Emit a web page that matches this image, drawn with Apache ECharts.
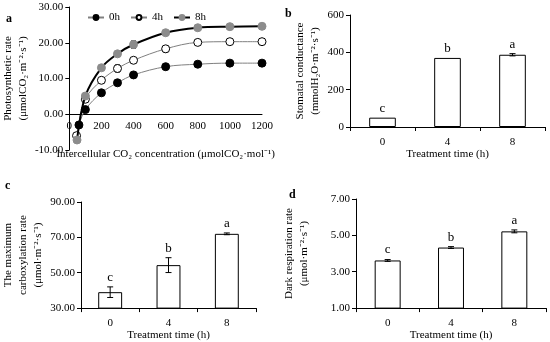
<!DOCTYPE html>
<html><head><meta charset="utf-8">
<script src="https://cdn.jsdelivr.net/npm/echarts@6/dist/echarts.min.js"></script>
<style>html,body{margin:0;padding:0;background:#fff}#c{width:550px;height:342px}</style>
</head><body><div id="c"></div>
<script>
// ---- Panel a data ----
const ci0h = [60, 100, 200, 300, 400, 600, 800, 1000, 1200];
const ci4h = [45, 100, 200, 300, 400, 600, 800, 1000, 1200];
const ci8h = [48, 100, 200, 300, 400, 600, 800, 1000, 1200];
const pn0h = [-3.0, 1.3, 6.0, 8.8, 11.0, 13.3, 14.0, 14.3, 14.3];
const pn4h = [-6.0, 4.2, 9.5, 12.8, 15.1, 18.3, 20.1, 20.3, 20.3];
const pn8h = [-7.2, 5.1, 13.0, 16.9, 19.5, 22.8, 24.2, 24.5, 24.6];
const er0h = [0.3, 0.3, 0.3, 0.5, 0.4, 0.4, 0.3, 0.3, 0.3];
const er4h = [0.5, 0.4, 0.5, 1.0, 0.7, 0.9, 0.8, 0.7, 0.6];
const er8h = [0.5, 0.4, 0.4, 0.5, 1.0, 0.6, 0.6, 0.5, 0.4];
const seriesNames = ['0h', '4h', '8h'];
// ---- Panels b, c, d ----
const timeCats = ['0', '4', '8'];
const gsVals = [50, 370, 387];
const gsErr = [0, 0, 6];
const vcVals = [39.0, 54.3, 72.0];
const vcErr = [3.0, 4.2, 0.5];
const rdVals = [3.62, 4.33, 5.22];
const rdErr = [0.05, 0.05, 0.08];
const sigLetters = ['c', 'b', 'a'];

const FONT = 'Liberation Serif';
const txt = {color: '#000', fontFamily: FONT, fontSize: 11};

function pts(xs, ys, es) { return xs.map((x, i) => es ? [x, ys[i], es[i]] : [x, ys[i]]); }
function barErr(vals, errs) { return vals.map((v, i) => [i, v, errs[i]]); }

function errRender(letters, capW) {
  return function (params, api) {
    const x = api.value(0), y = api.value(1), e = api.value(2);
    const top = api.coord([x, y + e]);
    const bot = api.coord([x, y - e]);
    const ch = [];
    if (e > 0) {
      const st = {stroke: '#000', lineWidth: 1};
      ch.push({type: 'line', shape: {x1: top[0], y1: top[1], x2: bot[0], y2: bot[1]}, style: st});
      ch.push({type: 'line', shape: {x1: top[0] - capW, y1: top[1], x2: top[0] + capW, y2: top[1]}, style: st});
      ch.push({type: 'line', shape: {x1: bot[0] - capW, y1: bot[1], x2: bot[0] + capW, y2: bot[1]}, style: st});
    }
    if (letters) {
      ch.push({type: 'text', style: {text: letters[params.dataIndex], x: top[0], y: top[1] - 3,
        align: 'center', verticalAlign: 'bottom', fontFamily: FONT, fontSize: 13, fill: '#000'}});
    }
    return {type: 'group', children: ch};
  };
}

function catX(gi) {
  return {type: 'category', gridIndex: gi, data: timeCats, boundaryGap: true,
    axisLine: {show: true, onZero: false, lineStyle: {color: '#000'}},
    axisTick: {show: true, length: 4, inside: false, lineStyle: {color: '#000'}},
    axisLabel: Object.assign({margin: 10}, txt),
    name: 'Treatment time (h)', nameLocation: 'middle', nameGap: 21,
    nameTextStyle: Object.assign({}, txt), splitLine: {show: false}};
}
function valY(gi, min, max, interval, dec, name, nameGap) {
  return {type: 'value', gridIndex: gi, min: min, max: max, interval: interval,
    axisLine: {show: true, lineStyle: {color: '#000'}},
    axisTick: {show: true, length: 4, lineStyle: {color: '#000'}},
    axisLabel: Object.assign({margin: 6, formatter: v => v.toFixed(dec)}, txt),
    splitLine: {show: false},
    name: name, nameLocation: 'middle', nameGap: nameGap, nameRotate: 90,
    nameTextStyle: Object.assign({lineHeight: 15}, txt)};
}
function barSeries(xi, yi, vals) {
  return {type: 'bar', xAxisIndex: xi, yAxisIndex: yi, data: vals, barWidth: '41%',
    itemStyle: {color: '#fff', borderColor: '#000', borderWidth: 1}, silent: true};
}
function errSeries(xi, yi, vals, errs) {
  return {type: 'custom', xAxisIndex: xi, yAxisIndex: yi, data: barErr(vals, errs),
    renderItem: errRender(sigLetters, 3), z: 5, silent: true};
}

const styles = {
  '0h': {sym: {color: '#000', borderColor: '#000', borderWidth: 1}, line: {color: '#808080', width: 1}},
  '4h': {sym: {color: '#fff', borderColor: '#000', borderWidth: 1}, line: {color: '#808080', width: 1}},
  '8h': {sym: {color: '#8c8c8c', borderColor: '#8c8c8c', borderWidth: 1}, line: {color: '#000', width: 2}}
};
const curveData = {'0h': pts(ci0h, pn0h), '4h': pts(ci4h, pn4h), '8h': pts(ci8h, pn8h)};
const curveErr = {'0h': pts(ci0h, pn0h, er0h), '4h': pts(ci4h, pn4h, er4h), '8h': pts(ci8h, pn8h, er8h)};

const series = [];
seriesNames.forEach(n => {
  series.push({type: 'custom', xAxisIndex: 0, yAxisIndex: 0, data: curveErr[n],
    renderItem: errRender(null, 2.5), z: 1, silent: true});
});
seriesNames.forEach(n => {
  series.push({name: n, type: 'line', xAxisIndex: 0, yAxisIndex: 0, data: curveData[n],
    smooth: 0.35, symbol: 'circle', symbolSize: 8, showSymbol: true,
    itemStyle: styles[n].sym, lineStyle: styles[n].line, z: n === '8h' ? 3 : 2});
});
series.push(barSeries(1, 1, gsVals), errSeries(1, 1, gsVals, gsErr));
series.push(barSeries(2, 2, vcVals), errSeries(2, 2, vcVals, vcErr));
series.push(barSeries(3, 3, rdVals), errSeries(3, 3, rdVals, rdErr));

const chart = echarts.init(document.getElementById('c'), null, {renderer: 'canvas'});
chart.setOption({
  animation: false,
  backgroundColor: '#fff',
  textStyle: {fontFamily: FONT},
  legend: {data: seriesNames, left: 82, top: 7, itemWidth: 16, itemHeight: 6, itemGap: 10,
    textStyle: Object.assign({}, txt), selectedMode: false},
  grid: [
    {left: 66, top: 7, width: 196, height: 143},
    {left: 350, top: 15, width: 195, height: 112},
    {left: 76, top: 202, width: 180, height: 109},
    {left: 356, top: 199, width: 190, height: 115}
  ],
  xAxis: [
    {type: 'value', gridIndex: 0, min: 0, max: 1200, interval: 200,
      position: 'bottom', offset: -36,
      axisLine: {show: true, onZero: false, lineStyle: {color: '#000', width: 1}},
      axisTick: {show: false}, splitLine: {show: false},
      axisLabel: Object.assign({margin: 7, formatter: v => String(v)}, txt),
      name: 'Intercellular CO₂ concentration (μmolCO₂·mol⁻¹)', nameLocation: 'middle', nameGap: 35,
      nameMoveOverlap: false,
      nameTextStyle: Object.assign({}, txt)},
    catX(1), catX(2), catX(3)
  ],
  yAxis: [
    valY(0, -10, 30, 10, 2, 'Photosynthetic rate\n(μmolCO₂·m⁻²·s⁻¹)', 33),
    valY(1, 0, 600, 200, 0, 'Stomatal conductance\n(mmolH₂O·m⁻²·s⁻¹)', 27),
    valY(2, 30, 90, 20, 2, 'The maximum\ncarboxylation rate\n(μmol·m⁻²·s⁻¹)', 35),
    valY(3, 1, 7, 2, 2, 'Dark respiration rate\n(μmol·m⁻²·s⁻¹)', 44)
  ],
  graphic: [
    {type: 'text', left: 6, top: 13, style: {text: 'a', font: 'bold 12px "Liberation Serif"', fill: '#000'}},
    {type: 'text', left: 285, top: 8, style: {text: 'b', font: 'bold 12px "Liberation Serif"', fill: '#000'}},
    {type: 'text', left: 5, top: 180, style: {text: 'c', font: 'bold 12px "Liberation Serif"', fill: '#000'}},
    {type: 'text', left: 289, top: 189, style: {text: 'd', font: 'bold 12px "Liberation Serif"', fill: '#000'}}
  ],
  series: series
});
</script></body></html>
